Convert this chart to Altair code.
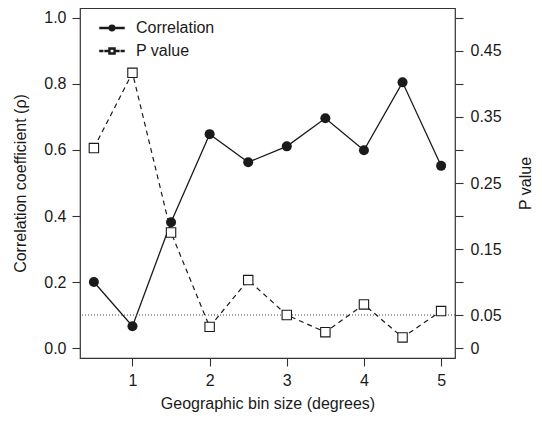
import altair as alt
import pandas as pd

# ---- data ----
bin_size = [0.5, 1, 1.5, 2, 2.5, 3, 3.5, 4, 4.5, 5]
correlation = [0.200, 0.066, 0.381, 0.648, 0.563, 0.611, 0.696, 0.599, 0.805, 0.552]
p_value = [0.303, 0.417, 0.175, 0.032, 0.103, 0.050, 0.024, 0.066, 0.016, 0.056]
series_names = ["Correlation", "P value"]
x_ticks = [1, 2, 3, 4, 5]
rho_ticks = [0, 0.2, 0.4, 0.6, 0.8, 1.0]
p_ticks = [0, 0.05, 0.1, 0.15, 0.2, 0.25, 0.3, 0.35, 0.4, 0.45, 0.5]
p_labelled = [0, 0.05, 0.15, 0.25, 0.35, 0.45]
significance = [0.05]

df = pd.DataFrame({"bin": bin_size, "rho": correlation, "p": p_value})
df_sig = pd.DataFrame({"p": significance})
df_leg = pd.DataFrame({"series": series_names})

FONT = "Liberation Sans"
INK = "#1a1a1a"
W, H = 375, 350

x_enc = alt.X(
    "bin:Q",
    scale=alt.Scale(domain=[0.32, 5.18], nice=False, zero=False),
    axis=alt.Axis(
        values=x_ticks, format="d", title="Geographic bin size (degrees)",
        labelPadding=6, titlePadding=7,
    ),
)

rho_y = alt.Y(
    "rho:Q",
    scale=alt.Scale(domain=[-0.0303, 1.0303], nice=False, zero=False),
    axis=alt.Axis(
        orient="left", values=rho_ticks, format=".1f",
        title="Correlation coefficient (ρ)", labelPadding=6, titlePadding=15,
    ),
)

p_label_list = "[" + ",".join(str(v) for v in p_labelled) + "]"
p_y = alt.Y(
    "p:Q",
    scale=alt.Scale(domain=[-0.01515, 0.51515], nice=False, zero=False),
    axis=alt.Axis(
        orient="right", values=p_ticks,
        labelExpr=f"indexof({p_label_list}, datum.value) >= 0 ? (datum.value == 0 ? '0' : format(datum.value, '.2f')) : ''",
        title="P value", titleAngle=270, titleX=70, titleY=H / 2,
        titleAlign="center", titleBaseline="middle", labelPadding=7,
    ),
)

base = alt.Chart(df)

corr_line = base.mark_line(color=INK, strokeWidth=1.3).encode(x=x_enc, y=rho_y)
corr_pts = base.mark_point(filled=True, color=INK, size=100, opacity=1, shape="circle").encode(x=x_enc, y=rho_y)

# legend symbols as filled custom paths (unit coords; 1 unit = 6 px at symbolSize 144)
path_corr = ("M-2,-0.08H2V0.08H-2Z"
             "M0.45,0A0.45,0.45,0,1,1,-0.45,0A0.45,0.45,0,1,1,0.45,0Z")
path_p = ("M-2,-0.08H-1.55V0.08H-2Z"
          "M-1.15,-0.08H-0.7V0.08H-1.15Z"
          "M0.7,-0.08H1.15V0.08H0.7Z"
          "M1.55,-0.08H2V0.08H1.55Z"
          "M-0.5,-0.5H0.5V0.5H-0.5Z"
          "M-0.35,-0.35V0.35H0.35V-0.35Z")

leg_common = dict(
    orient="none", legendX=24, legendY=12, title=None, padding=0,
    labelFont=FONT, labelFontSize=16, labelColor=INK, labelOffset=16,
    symbolSize=144, rowPadding=7, symbolOpacity=1,
)
legend_layer = alt.Chart(df_leg).transform_filter("false").mark_point(
    filled=False, stroke=INK, strokeWidth=1.2, size=144, opacity=1
).encode(
    shape=alt.Shape("series:N", scale=alt.Scale(domain=series_names, range=[path_corr, path_p]),
                    legend=alt.Legend(**leg_common)),
    fill=alt.Fill("series:N", scale=alt.Scale(domain=series_names, range=[INK, INK]),
                  legend=alt.Legend(**leg_common)),
)

left = alt.layer(corr_line, corr_pts, legend_layer)

p_line = base.mark_line(color=INK, strokeWidth=1.2, strokeDash=[5, 4]).encode(x=x_enc, y=p_y)
p_pts = base.mark_point(filled=True, fill="white", stroke=INK, strokeWidth=1.1, size=88,
                        opacity=1, shape="square").encode(x=x_enc, y=p_y)
sig_rule = alt.Chart(df_sig).mark_rule(color="#444", strokeWidth=1, strokeDash=[1, 2]).encode(y=p_y)

right = alt.layer(sig_rule, p_line, p_pts)

chart = alt.layer(left, right).resolve_scale(y="independent").properties(
    width=W, height=H,
    autosize=alt.AutoSizeParams(type="none"),
    padding={"left": 72, "top": 0, "right": 79, "bottom": 55},
).configure_view(
    stroke="#333", strokeWidth=1.2
).configure_axis(
    domain=False, tickColor="#333", tickSize=8, tickWidth=1.1,
    labelFont=FONT, labelFontSize=16, labelColor=INK,
    titleFont=FONT, titleFontSize=16, titleFontWeight="normal", titleColor=INK,
    grid=False,
)

chart.save("out.html", embed_options={"renderer": "svg", "actions": False})
